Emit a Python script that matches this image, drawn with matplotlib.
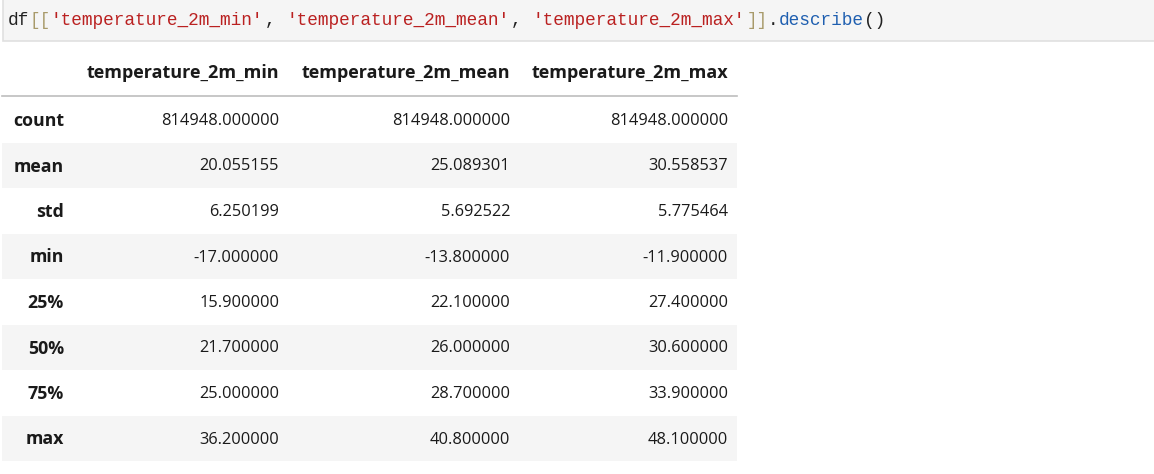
import matplotlib.pyplot as plt
from matplotlib.patches import Rectangle

# --------------------------------------------------
# Data: df[[...]].describe() output
# --------------------------------------------------
columns = ["temperature_2m_min", "temperature_2m_mean", "temperature_2m_max"]
stats = ["count", "mean", "std", "min", "25%", "50%", "75%", "max"]

t_min = [814948.0, 20.055155, 6.250199, -17.0, 15.9, 21.7, 25.0, 36.2]
t_mean = [814948.0, 25.089301, 5.692522, -13.8, 22.1, 26.0, 28.7, 40.8]
t_max = [814948.0, 30.558537, 5.775464, -11.9, 27.4, 30.6, 33.9, 48.1]

# code cell pieces (text, colour)
code_parts = [
    ("df", "#212121"), ("[[", "#a89a6a"), ("'temperature_2m_min'", "#ba2121"),
    (", ", "#212121"), ("'temperature_2m_mean'", "#ba2121"), (", ", "#212121"),
    ("'temperature_2m_max'", "#ba2121"), ("]]", "#a89a6a"), (".", "#212121"),
    ("describe", "#1f5fb0"), ("()", "#212121"),
]

# --------------------------------------------------
# Canvas in pixel coordinates
# --------------------------------------------------
W, H = 1154, 474
fig = plt.figure(figsize=(W / 100, H / 100), dpi=100)
ax = fig.add_axes([0, 0, 1, 1])
ax.set_xlim(0, W)
ax.set_ylim(H, 0)
ax.axis("off")

# code cell
ax.add_patch(Rectangle((3, -2), W, 43, facecolor="#f5f5f5", edgecolor="#e0e0e0", lw=1.2))
char_w = 10.7
x = 8
for txt, col in code_parts:
    ax.text(x, 20, txt, color=col, family="Liberation Mono", fontsize=12.8, va="center", ha="left")
    x += char_w * len(txt)

# table
row_h = 45.5
first_row = 120
col_right = [279, 510, 728]
label_right = 64
table_font = "Open Sans"
text_col = "#1a1a1a"

for cx, name in zip(col_right, columns):
    ax.text(cx, 73, name, ha="right", va="center", fontsize=13, fontweight="bold",
            family=table_font, color=text_col)
ax.plot([2, 737], [96, 96], color="#bdbdbd", lw=1.2)

series = [t_min, t_mean, t_max]
for i, stat in enumerate(stats):
    y = first_row + i * row_h
    if i % 2 == 1:
        ax.add_patch(Rectangle((2, y - row_h / 2), 735, row_h, facecolor="#f5f5f5", edgecolor="none"))
    ax.text(label_right, y + 1, stat, ha="right", va="center", fontsize=12.8, fontweight="bold",
            family=table_font, color=text_col)
    for cx, s in zip(col_right, series):
        ax.text(cx, y + 1, f"{s[i]:.6f}", ha="right", va="center", fontsize=11.8,
                family=table_font, color=text_col)

fig.savefig("out.png", dpi=100, facecolor="white")
